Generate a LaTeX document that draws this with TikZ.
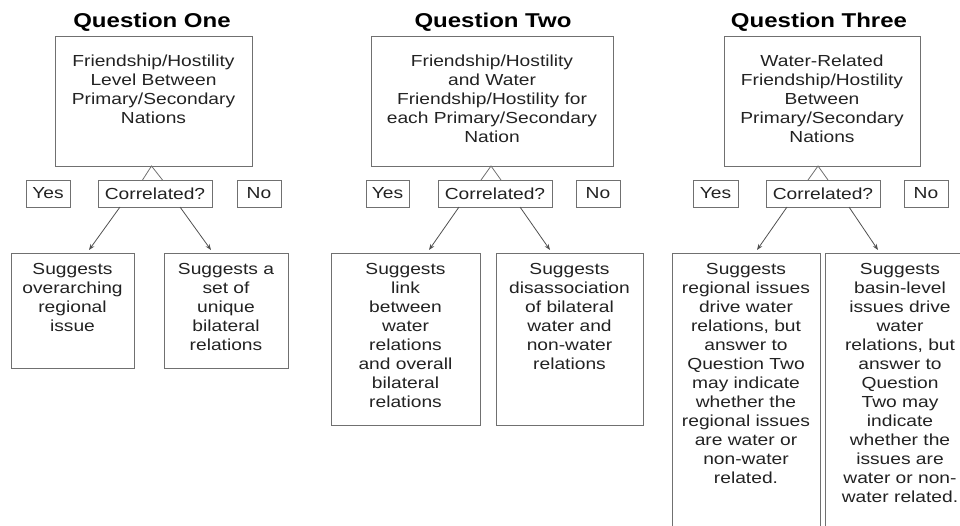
\documentclass[tikz,border=0pt]{standalone}
\usepackage{fontspec}
\setmainfont{Liberation Sans}[FakeStretch=1.2]
\usetikzlibrary{arrows.meta,calc}
\definecolor{boxgray}{HTML}{707070}
\definecolor{arrgray}{HTML}{505050}
\definecolor{txtgray}{HTML}{222222}
\begin{document}
\begin{tikzpicture}[x=1pt,y=-1pt,
  box/.style={draw=boxgray, line width=0.9pt, inner sep=0pt, outer sep=0pt, rectangle, text=txtgray,
    font=\fontsize{16}{19}\selectfont},
  txt/.style={inner sep=0pt, outer sep=0pt, align=center, text=txtgray, font=\fontsize{16}{19}\selectfont, anchor=north},
  ttl/.style={inner sep=0pt, anchor=base, text=black, font=\bfseries\fontsize{20}{24}\selectfont},
  small/.style={box, minimum height=27pt},
  arr/.style={draw=arrgray, line width=0.8pt, -{Stealth[length=6pt,width=4.5pt]}},
  tri/.style={draw=boxgray, line width=0.8pt}
]
\useasboundingbox (0,0) rectangle (960,525);
\clip (0,0) rectangle (960,525);

% ---------------- Question One ----------------
\node[ttl] (t1) at (152,27) {Question One};
\node[box, minimum width=197pt, minimum height=130pt] (m1) at (153.5,101) {};
\node[txt] (m1t) at ($(m1.north)+(0,18.5)$) {Friendship/Hostility\\Level Between\\Primary/Secondary\\Nations};
\node[small, minimum width=44pt] (y1) at (48,193.5) {Yes};
\node[small, minimum width=114pt] (c1) at (155,193.5) {Correlated?};
\node[small, minimum width=44pt] (n1) at (259,193.5) {No};
\draw[tri] ($(m1.south)+(-11,14)$) -- ($(m1.south)+(-2,0)$) -- ($(m1.south)+(9,14)$);
\node[box, minimum width=123pt, minimum height=115pt] (l1) at (72.5,310.5) {};
\node[txt] (l1t) at ($(l1.north)+(0,10.5)$) {Suggests\\overarching\\regional\\issue};
\node[box, minimum width=124pt, minimum height=115pt] (r1) at (226,310.5) {};
\node[txt] (r1t) at ($(r1.north)+(0,10.5)$) {Suggests a\\set of\\unique\\bilateral\\relations};
\draw[arr] ($(c1.south)+(-35,0)$) -- ($(l1.north)+(16.5,-3)$);
\draw[arr] ($(c1.south)+(25,0)$) -- ($(r1.north)+(-15,-3)$);

% ---------------- Question Two ----------------
\node[ttl] (t2) at (493,27) {Question Two};
\node[box, minimum width=242pt, minimum height=130pt] (m2) at (492,101) {};
\node[txt] (m2t) at ($(m2.north)+(0,18.5)$) {Friendship/Hostility\\and Water\\Friendship/Hostility for\\each Primary/Secondary\\Nation};
\node[small, minimum width=43pt] (y2) at (387.5,193.5) {Yes};
\node[small, minimum width=114pt] (c2) at (495,193.5) {Correlated?};
\node[small, minimum width=44pt] (n2) at (598,193.5) {No};
\draw[tri] ($(m2.south)+(-11,14)$) -- ($(m2.south)+(-1,0)$) -- ($(m2.south)+(9,14)$);
\node[box, minimum width=149pt, minimum height=172pt] (l2) at (405.5,339) {};
\node[txt] (l2t) at ($(l2.north)+(0,10.5)$) {Suggests\\link\\between\\water\\relations\\and overall\\bilateral\\relations};
\node[box, minimum width=147pt, minimum height=172pt] (r2) at (569.5,339) {};
\node[txt] (r2t) at ($(r2.north)+(0,10.5)$) {Suggests\\disassociation\\of bilateral\\water and\\non-water\\relations};
\draw[arr] ($(c2.south)+(-36,0)$) -- ($(l2.north)+(23.5,-3)$);
\draw[arr] ($(c2.south)+(25,0)$) -- ($(r2.north)+(-19.5,-3)$);

% ---------------- Question Three ----------------
\node[ttl] (t3) at (819,27) {Question Three};
\node[box, minimum width=196pt, minimum height=130pt] (m3) at (822,101) {};
\node[txt] (m3t) at ($(m3.north)+(0,18.5)$) {Water-Related\\Friendship/Hostility\\Between\\Primary/Secondary\\Nations};
\node[small, minimum width=45pt] (y3) at (715.5,193.5) {Yes};
\node[small, minimum width=114pt] (c3) at (823,193.5) {Correlated?};
\node[small, minimum width=44pt] (n3) at (926,193.5) {No};
\draw[tri] ($(m3.south)+(-14,14)$) -- ($(m3.south)+(-4,0)$) -- ($(m3.south)+(6,14)$);
\node[box, minimum width=148pt, minimum height=297pt] (l3) at (746,401.5) {};
\node[txt] (l3t) at ($(l3.north)+(0,10.5)$) {Suggests\\regional issues\\drive water\\relations, but\\answer to\\Question Two\\may indicate\\whether the\\regional issues\\are water or\\non-water\\related.};
\node[box, minimum width=150pt, minimum height=297pt] (r3) at (900,401.5) {};
\node[txt] (r3t) at ($(r3.north)+(0,10.5)$) {Suggests\\basin-level\\issues drive\\water\\relations, but\\answer to\\Question\\Two may\\indicate\\whether the\\issues are\\water or non-\\water related.};
\draw[arr] ($(c3.south)+(-36,0)$) -- ($(l3.north)+(11,-3)$);
\draw[arr] ($(c3.south)+(26,0)$) -- ($(r3.north)+(-22,-3)$);
\end{tikzpicture}
\end{document}
